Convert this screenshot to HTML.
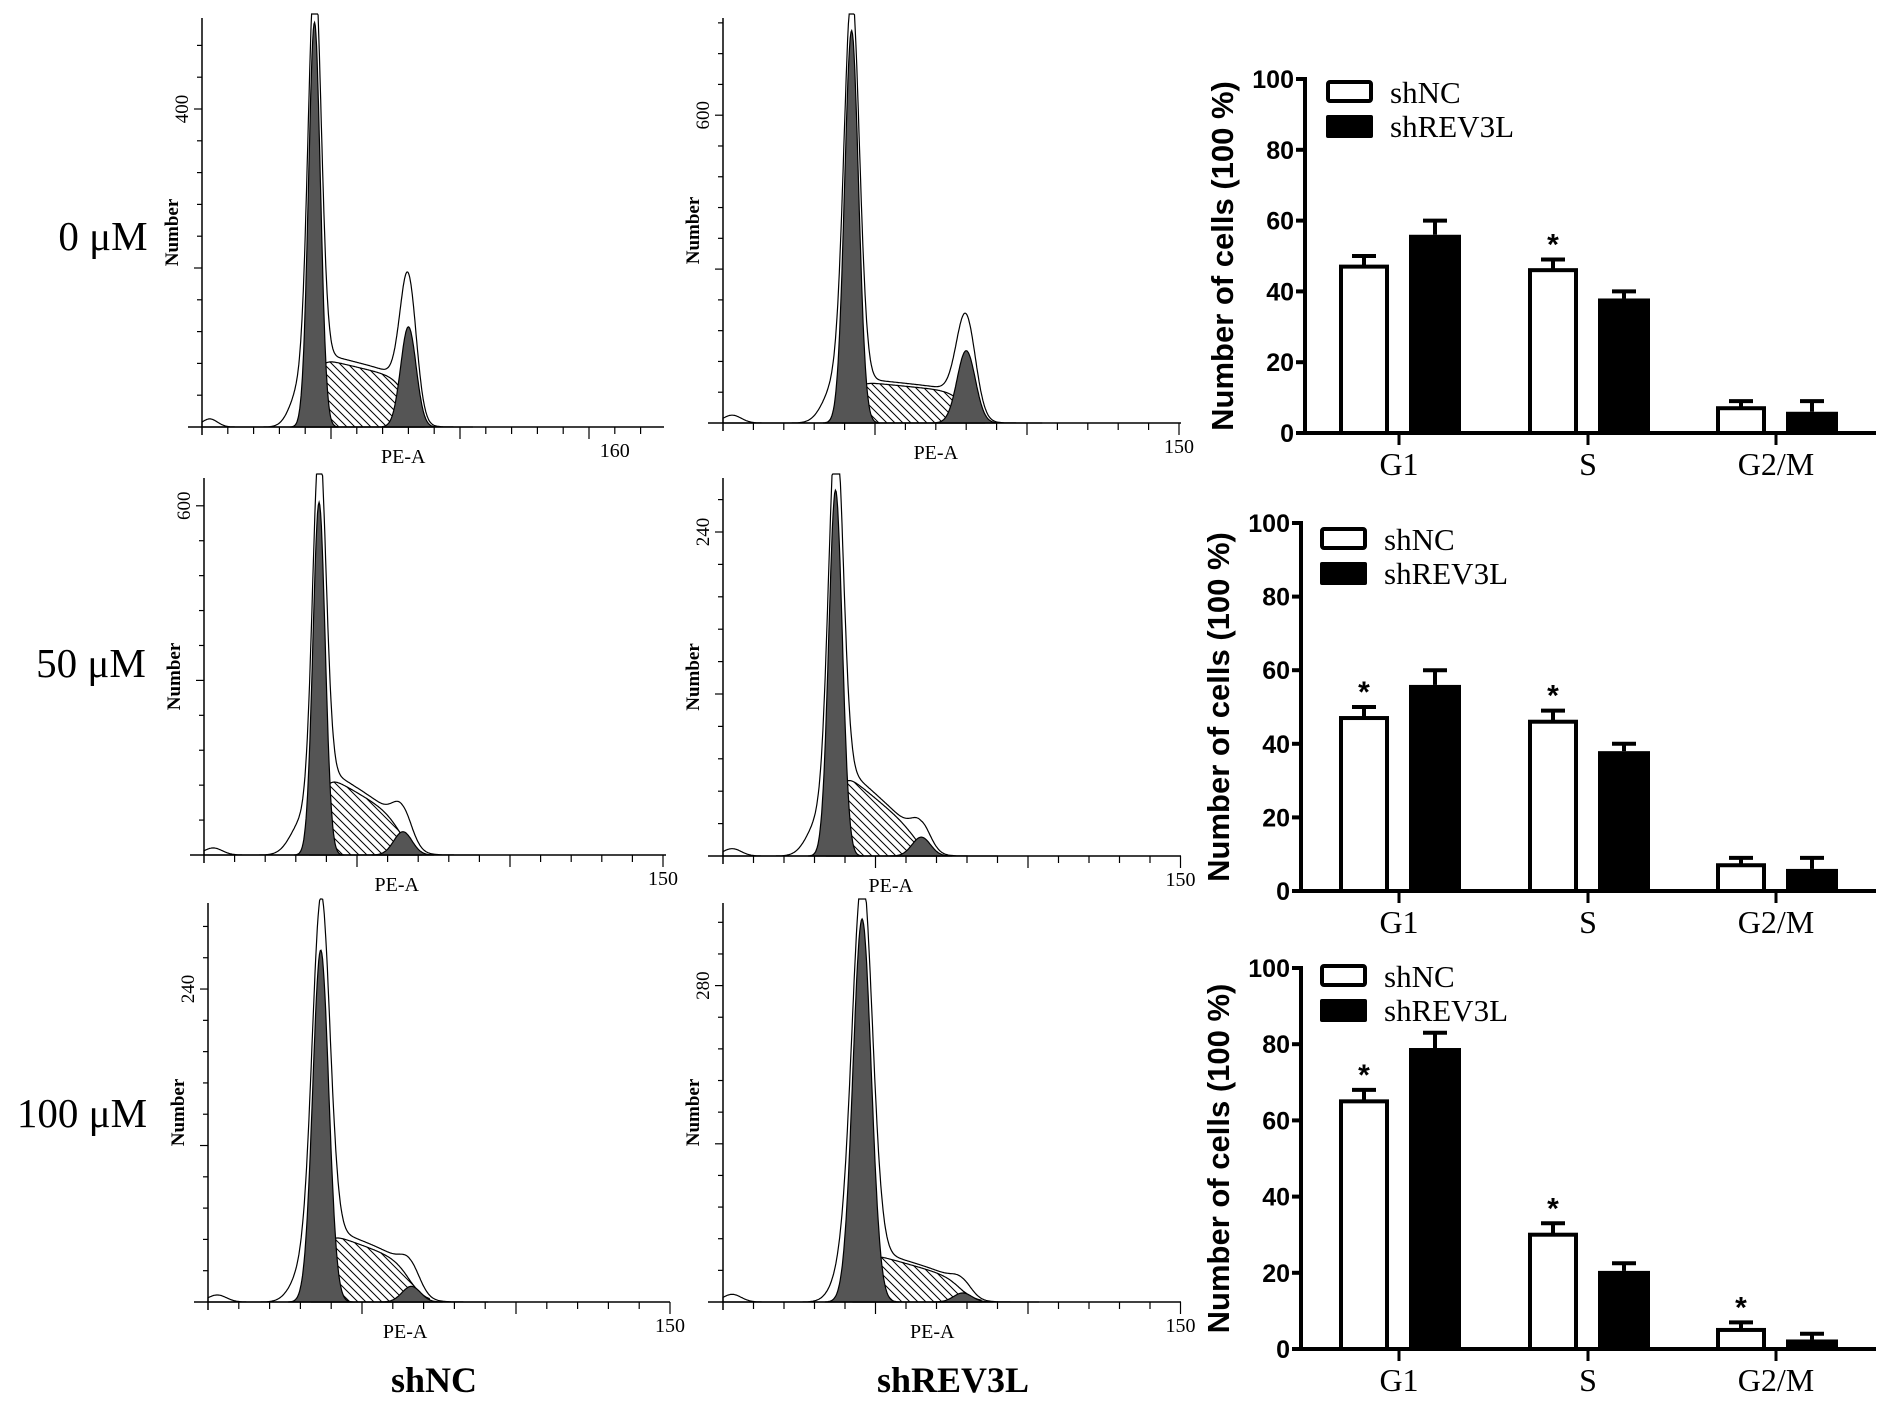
<!DOCTYPE html>
<html><head><meta charset="utf-8"><style>
html,body{margin:0;padding:0;background:#fff;}
svg{display:block;}
.serif{font-family:"Liberation Serif",serif;}
.sans{font-family:"Liberation Sans",sans-serif;}
</style></head>
<body>
<svg id="fig" width="1890" height="1409" viewBox="0 0 1890 1409" xmlns="http://www.w3.org/2000/svg">
<defs>
<pattern id="hatch" patternUnits="userSpaceOnUse" width="8" height="8">
<path d="M-1,-1 L9,9 M-1,7 L1,9 M7,-1 L9,1" stroke="#000" stroke-width="1"/>
</pattern>
</defs>
<rect width="1890" height="1409" fill="#fff"/>
<g id="hists"></g>
<g id="bars"></g>
<text class="serif" x="103" y="250" font-size="41" text-anchor="middle">0 μM</text>
<text class="serif" x="91" y="677" font-size="41" text-anchor="middle">50 μM</text>
<text class="serif" x="82" y="1127" font-size="41" text-anchor="middle">100 μM</text>
<text class="serif" x="434" y="1392" font-size="36" font-weight="bold" text-anchor="middle">shNC</text>
<text class="serif" x="953" y="1392" font-size="36" font-weight="bold" text-anchor="middle">shREV3L</text>
</svg>
<script>
// ---------- Histogram data (per panel) ----------
const panelNames=['hist-shnc-0um','hist-shrev3l-0um','hist-shnc-50um','hist-shrev3l-50um','hist-shnc-100um','hist-shrev3l-100um'];
const g1Pos=[43.6,42.3,37.6,36.9,36.6,45.6];
const g1Height=[509,765,606,271,270,339];
const g1Sigma=[2.3,2.3,2.0,2.2,2.6,3.0];
const g2Pos=[80,80,65,65,66,78.6];
const g2Height=[126,141,40,14,12,8];
const sStart=[88,82,145,67,55,45];
const sEnd=[60,60,62,15,30,20];
const yTickValue=[400,600,600,240,240,280];
const yTickLabel=['400','600','600','240','240','280'];
const xTickValue=[160,150,150,150,150,150];
const xTickLabel=['160','150','150','150','150','150'];
// layout (pixels)
const L=[
 {ax:202,base:427,top:18,x0:188,xEnd:664,ppc:2.58,ppu:0.795},
 {ax:723,base:423,top:18,x0:708,xEnd:1181,ppc:3.04,ppu:0.513},
 {ax:204,base:855,top:478,x0:190,xEnd:666,ppc:3.06,ppu:0.582},
 {ax:723,base:856,top:478,x0:708,xEnd:1181,ppc:3.05,ppu:1.35},
 {ax:208,base:1302,top:903,x0:194,xEnd:670,ppc:3.08,ppu:1.304},
 {ax:723,base:1302,top:903,x0:708,xEnd:1181,ppc:3.05,ppu:1.13}
];
const NS='http://www.w3.org/2000/svg';
function mk(tag,attrs,parent){const e=document.createElementNS(NS,tag);for(const k in attrs)e.setAttribute(k,attrs[k]);if(parent)parent.appendChild(e);return e;}
const H=document.getElementById('hists');
function gauss(c,p,h,s){return h*Math.exp(-(c-p)*(c-p)/(2*s*s));}
function sig(x){return 1/(1+Math.exp(-x));}
for(let i=0;i<6;i++){
 const l=L[i];
 const g=mk('g',{},H);
 
 
 const xs=c=>l.ax+c*l.ppc;
 const ys=v=>l.base-Math.min(v*l.ppu,l.base-l.top+4);
 const cmax=(l.xEnd-l.ax)/l.ppc;
 const sPhase=c=>{const t=Math.max(0,Math.min(1,(c-g1Pos[i])/(g2Pos[i]-g1Pos[i])));return (sStart[i]+(sEnd[i]-sStart[i])*t)*sig((c-g1Pos[i])/1.5)*sig((g2Pos[i]-c)/2.5);};
 const g1=c=>gauss(c,g1Pos[i],g1Height[i],g1Sigma[i]);
 const g2=c=>gauss(c,g2Pos[i],g2Height[i],3);
 const env=c=>gauss(c,g1Pos[i],g1Height[i],g1Sigma[i]*1.1)+gauss(c,g1Pos[i]-5,g1Height[i]*0.1,4)+sPhase(c)*1.08+gauss(c,g2Pos[i],g2Height[i]*1.28,3.1)+gauss(c,3,g1Height[i]*0.02,3);
 function area(f,name,fill,from,to){
  let d='M'+xs(from)+','+l.base;
  for(let c=from;c<=to;c+=0.25)d+=' L'+xs(c).toFixed(1)+','+ys(f(c)).toFixed(1);
  d+=' L'+xs(to)+','+l.base+' Z';
  const p=mk('path',{d:d,fill:fill,stroke:'#000','stroke-width':1.2},g);
  
  
 }
 area(env,'envelope-curve','#fff',0,Math.min(cmax,g2Pos[i]+25));
 area(sPhase,'s-phase-area','url(#hatch)',g1Pos[i]-3,g2Pos[i]+6);
 area(g1,'g1-peak','#555',g1Pos[i]-4*g1Sigma[i],g1Pos[i]+4*g1Sigma[i]);
 area(g2,'g2-peak','#555',g2Pos[i]-10,g2Pos[i]+10);
 const ya=mk('line',{x1:l.ax,y1:l.top,x2:l.ax,y2:l.base+8,stroke:'#000','stroke-width':1.5},g);
 
 const xa=mk('line',{x1:l.x0,y1:l.base,x2:l.xEnd,y2:l.base,stroke:'#000','stroke-width':1.5},g);
 
 const step=yTickValue[i]/10;
 for(let k=1;ys(k*step)>l.top+2;k++){const y=ys(k*step);mk('line',{x1:l.ax-(k%5==0?8:5),y1:y,x2:l.ax,y2:y,stroke:'#000','stroke-width':1.2},g);}
 for(let c=10;c<=cmax;c+=10){const x=xs(c);mk('line',{x1:x,y1:l.base,x2:x,y2:l.base+(c%50==0?12:7),stroke:'#000','stroke-width':1.2},g);}
 const yl=mk('text',{x:0,y:0,'font-size':19,'text-anchor':'middle',transform:`translate(${l.ax-14},${ys(yTickValue[i])}) rotate(-90)`,class:'serif'},g);
 yl.textContent=yTickLabel[i];
 
 const nt=mk('text',{x:0,y:0,'font-size':19,'font-weight':'bold','text-anchor':'middle',transform:`translate(${l.ax-24},${(l.top+l.base)/2+10}) rotate(-90)`,class:'serif'},g);
 nt.textContent='Number';
 
 const xl=mk('text',{x:xs(xTickValue[i]),y:l.base+30,'font-size':20,'text-anchor':'middle',class:'serif'},g);
 xl.textContent=xTickLabel[i];
 
 const pe=mk('text',{x:xs(g2Pos[i]+(i%2==0?-2:-10)),y:l.base+36,'font-size':20,'text-anchor':'middle',class:'serif'},g);
 pe.textContent='PE-A';
 
}

// ---------- Bar chart data ----------
const categories=['G1','S','G2/M'];
const chartNames=['bar-chart-0um','bar-chart-50um','bar-chart-100um'];
const shNC=[[47,46,7],[47,46,7],[65,30,5]];
const shNCErr=[[3,3,2],[3,3,2],[3,3,2]];
const shREV=[[56,38,6],[56,38,6],[79,20.5,2.5]];
const shREVErr=[[4,2,3],[4,2,3],[4,2,1.5]];
const stars=[[false,true,false],[true,true,false],[true,true,true]];
const yTicks=[0,20,40,60,80,100];
const BL=[{ax:1305,y100:79,y0:433,legY:80},{ax:1301,y100:523,y0:891,legY:527},{ax:1301,y100:968,y0:1349,legY:964}];
const catX=[1399,1588,1776];
const B=document.getElementById('bars');
for(let j=0;j<3;j++){
 const l=BL[j];
 const g=mk('g',{},B);
 
 
 const ys=v=>l.y0-(l.y0-l.y100)*v/100;
 for(let k=0;k<3;k++){
  const c=catX[k];
  const w=mk('rect',{x:c-58,y:ys(shNC[j][k]),width:46,height:l.y0-ys(shNC[j][k]),fill:'#fff',stroke:'#000','stroke-width':4},g);
  
  const et=ys(shNC[j][k]+shNCErr[j][k]);
  mk('line',{x1:c-35,y1:ys(shNC[j][k]),x2:c-35,y2:et,stroke:'#000','stroke-width':4},g);
  mk('line',{x1:c-47,y1:et,x2:c-23,y2:et,stroke:'#000','stroke-width':4},g);
  if(stars[j][k]){const s=mk('text',{x:c-35,y:et+13,'font-size':30,'font-weight':'bold','text-anchor':'middle',class:'sans',dy:'-18'},g);s.textContent='*';}
  const b=mk('rect',{x:c+10,y:ys(shREV[j][k]),width:52,height:l.y0-ys(shREV[j][k]),fill:'#000'},g);
  
  const bt=ys(shREV[j][k]+shREVErr[j][k]);
  mk('line',{x1:c+36,y1:ys(shREV[j][k]),x2:c+36,y2:bt,stroke:'#000','stroke-width':4},g);
  mk('line',{x1:c+24,y1:bt,x2:c+48,y2:bt,stroke:'#000','stroke-width':4},g);
  mk('line',{x1:c,y1:l.y0,x2:c,y2:l.y0+12,stroke:'#000','stroke-width':3},g);
  const cl=mk('text',{x:c,y:l.y0+42,'font-size':32,'text-anchor':'middle',class:'serif'},g);
  cl.textContent=categories[k];
 }
 const ya=mk('line',{x1:l.ax,y1:l.y100-2,x2:l.ax,y2:l.y0+2,stroke:'#000','stroke-width':4},g);
 
 const xa=mk('line',{x1:l.ax-2,y1:l.y0,x2:1876,y2:l.y0,stroke:'#000','stroke-width':4},g);
 
 for(const t of yTicks){
  mk('line',{x1:l.ax-9,y1:ys(t),x2:l.ax,y2:ys(t),stroke:'#000','stroke-width':4},g);
  const tl=mk('text',{x:l.ax-11,y:ys(t)+9,'font-size':25,'font-weight':'bold','text-anchor':'end',class:'sans'},g);
  tl.textContent=t;
 }
 const yt=mk('text',{x:0,y:0,'font-size':31,'font-weight':'bold','text-anchor':'middle',class:'sans',transform:`translate(${l.ax-72},${(l.y0+l.y100)/2}) rotate(-90)`},g);
 yt.textContent='Number of cells (100 %)';
 const lx=1328+(j?-6:0);
 const lw=mk('rect',{x:lx,y:l.legY+2,width:43,height:19,fill:'#fff',stroke:'#000','stroke-width':4,rx:2},g);
 
 const lb=mk('rect',{x:lx-2,y:l.legY+35,width:47,height:23,fill:'#000',rx:2},g);
 
 const t1=mk('text',{x:lx+62,y:l.legY+23,'font-size':31,class:'serif'},g);
 t1.textContent='shNC';
 const t2=mk('text',{x:lx+62,y:l.legY+57,'font-size':31,class:'serif'},g);
 t2.textContent='shREV3L';
}
</script>
</body></html>
